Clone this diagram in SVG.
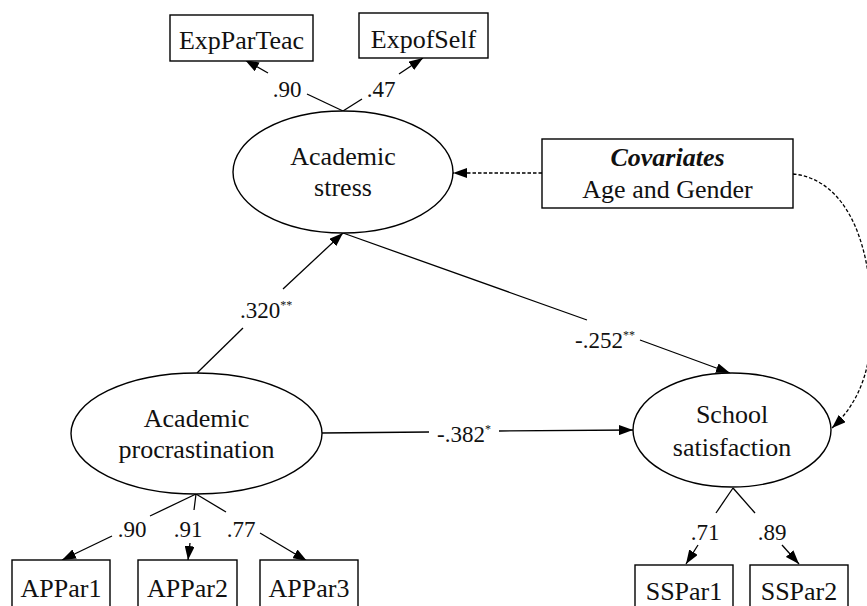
<svg xmlns="http://www.w3.org/2000/svg" width="867" height="606" viewBox="0 0 867 606">
<defs>
<marker id="ah" viewBox="0 0 14 10" refX="14" refY="5" markerWidth="14" markerHeight="10" markerUnits="userSpaceOnUse" orient="auto">
<path d="M0,0 L14,5 L0,10 z" fill="#000"/>
</marker>
</defs>
<rect width="867" height="606" fill="#fff"/>
<g id="connectors" stroke="#000" stroke-width="1.3" fill="none">
<line x1="307" y1="94" x2="343" y2="111"/>
<line marker-end="url(#ah)" x1="268" y1="73" x2="245" y2="60"/>
<line x1="343" y1="111" x2="362" y2="99"/>
<line marker-end="url(#ah)" x1="399" y1="74" x2="423" y2="58"/>
<line x1="197" y1="373" x2="243" y2="328"/>
<line marker-end="url(#ah)" x1="283" y1="289" x2="343" y2="233"/>
<line x1="343" y1="233" x2="587" y2="320"/>
<line marker-end="url(#ah)" x1="640" y1="340" x2="730" y2="373"/>
<line x1="322" y1="433" x2="429" y2="432"/>
<line marker-end="url(#ah)" x1="499" y1="431" x2="633" y2="430"/>
<line marker-end="url(#ah)" stroke-dasharray="3.5 2" x1="542" y1="173" x2="453" y2="173"/>
<path marker-end="url(#ah)" stroke-dasharray="3.5 2" d="M793,174 C836,178 866,222 871,300 C875,362 862,400 832,428"/>
<line x1="196" y1="494" x2="150" y2="516"/>
<line marker-end="url(#ah)" x1="112" y1="536" x2="62" y2="560"/>
<line x1="196" y1="494" x2="194" y2="510"/>
<line marker-end="url(#ah)" x1="190" y1="543" x2="188" y2="560"/>
<line x1="196" y1="494" x2="226" y2="512"/>
<line marker-end="url(#ah)" x1="260" y1="533" x2="307" y2="561"/>
<line x1="733" y1="488" x2="716" y2="513"/>
<line marker-end="url(#ah)" x1="698" y1="545" x2="686" y2="564"/>
<line x1="733" y1="488" x2="755" y2="513"/>
<line marker-end="url(#ah)" x1="782" y1="545" x2="799" y2="564"/>
</g>
<g id="labels">
<text font-family="Liberation Serif" font-size="23" fill="#111" x="287" y="97" text-anchor="middle">.90</text>
<text font-family="Liberation Serif" font-size="23" fill="#111" x="381" y="97" text-anchor="middle">.47</text>
<text font-family="Liberation Serif" font-size="23" fill="#111" x="240" y="318">.320<tspan font-size="12" dy="-9">**</tspan></text>
<text font-family="Liberation Serif" font-size="23" fill="#111" x="575" y="348">-.252<tspan font-size="12" dy="-9">**</tspan></text>
<text font-family="Liberation Serif" font-size="23" fill="#111" x="437" y="442">-.382<tspan font-size="12" dy="-9">*</tspan></text>
<text font-family="Liberation Serif" font-size="23" fill="#111" x="132" y="537" text-anchor="middle">.90</text>
<text font-family="Liberation Serif" font-size="23" fill="#111" x="188" y="537" text-anchor="middle">.91</text>
<text font-family="Liberation Serif" font-size="23" fill="#111" x="241" y="537" text-anchor="middle">.77</text>
<text font-family="Liberation Serif" font-size="23" fill="#111" x="705" y="540" text-anchor="middle">.71</text>
<text font-family="Liberation Serif" font-size="23" fill="#111" x="772" y="540" text-anchor="middle">.89</text>
</g>
<g id="ExpParTeac">
<rect fill="#fff" stroke="#000" stroke-width="1.4" x="170" y="15" width="143" height="46"/>
<text font-family="Liberation Serif" font-size="26" fill="#111" text-anchor="middle" x="241.5" y="49">ExpParTeac</text>
</g>
<g id="ExpofSelf">
<rect fill="#fff" stroke="#000" stroke-width="1.4" x="359" y="13" width="129" height="45"/>
<text font-family="Liberation Serif" font-size="26" fill="#111" text-anchor="middle" x="423.5" y="48">ExpofSelf</text>
</g>
<g id="AcademicStress">
<ellipse fill="#fff" stroke="#000" stroke-width="1.4" cx="343" cy="172" rx="110" ry="61"/>
<text font-family="Liberation Serif" font-size="26" fill="#111" text-anchor="middle" x="343" y="165">Academic</text>
<text font-family="Liberation Serif" font-size="26" fill="#111" text-anchor="middle" x="343" y="196">stress</text>
</g>
<g id="Covariates">
<rect fill="#fff" stroke="#000" stroke-width="1.4" x="542" y="139" width="251" height="69"/>
<text font-family="Liberation Serif" font-size="26" font-weight="bold" font-style="italic" fill="#111" text-anchor="middle" x="667.5" y="166">Covariates</text>
<text font-family="Liberation Serif" font-size="26" fill="#111" text-anchor="middle" x="667.5" y="198">Age and Gender</text>
</g>
<g id="AcademicProcrastination">
<ellipse fill="#fff" stroke="#000" stroke-width="1.4" cx="196.5" cy="433.5" rx="125.5" ry="60.5"/>
<text font-family="Liberation Serif" font-size="26" fill="#111" text-anchor="middle" x="196.5" y="427">Academic</text>
<text font-family="Liberation Serif" font-size="26" fill="#111" text-anchor="middle" x="196.5" y="458">procrastination</text>
</g>
<g id="SchoolSatisfaction">
<ellipse fill="#fff" stroke="#000" stroke-width="1.4" cx="732" cy="430" rx="99" ry="57"/>
<text font-family="Liberation Serif" font-size="26" fill="#111" text-anchor="middle" x="732" y="423">School</text>
<text font-family="Liberation Serif" font-size="26" fill="#111" text-anchor="middle" x="732" y="456">satisfaction</text>
</g>
<g id="APPar1">
<rect fill="#fff" stroke="#000" stroke-width="1.4" x="12" y="560" width="98" height="56"/>
<text font-family="Liberation Serif" font-size="26" fill="#111" text-anchor="middle" x="61" y="597">APPar1</text>
</g>
<g id="APPar2">
<rect fill="#fff" stroke="#000" stroke-width="1.4" x="138" y="560" width="99" height="56"/>
<text font-family="Liberation Serif" font-size="26" fill="#111" text-anchor="middle" x="187.5" y="597">APPar2</text>
</g>
<g id="APPar3">
<rect fill="#fff" stroke="#000" stroke-width="1.4" x="260" y="560" width="98" height="56"/>
<text font-family="Liberation Serif" font-size="26" fill="#111" text-anchor="middle" x="309" y="597">APPar3</text>
</g>
<g id="SSPar1">
<rect fill="#fff" stroke="#000" stroke-width="1.4" x="635" y="565" width="98" height="56"/>
<text font-family="Liberation Serif" font-size="26" fill="#111" text-anchor="middle" x="684" y="600">SSPar1</text>
</g>
<g id="SSPar2">
<rect fill="#fff" stroke="#000" stroke-width="1.4" x="750" y="565" width="98" height="56"/>
<text font-family="Liberation Serif" font-size="26" fill="#111" text-anchor="middle" x="799" y="600">SSPar2</text>
</g>
</svg>
